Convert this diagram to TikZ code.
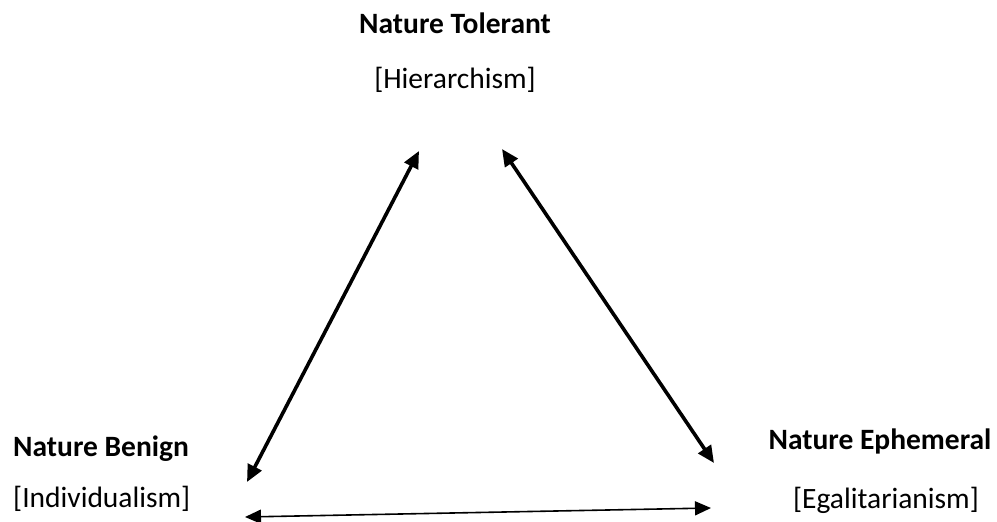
\documentclass[tikz,border=0pt]{standalone}
\usepackage{fontspec}
\setmainfont{Carlito}
\usetikzlibrary{arrows.meta}
\begin{document}
\begin{tikzpicture}[x=1pt,y=-1pt,
  lbl/.style={anchor=base,inner sep=0pt,font=\fontsize{29.5}{34}\selectfont},
  ttl/.style={lbl,font=\fontsize{29.5}{34}\selectfont\bfseries},
  thickarrow/.style={line width=3.6pt,{Triangle[length=17pt,width=15pt]}-{Triangle[length=17pt,width=15pt]}},
  thinarrow/.style={line width=1.6pt,{Triangle[length=16pt,width=14pt]}-{Triangle[length=16pt,width=14pt]}}]
\useasboundingbox (0,0) rectangle (997,522);
\node[ttl] (tolT) at (455,33) {Nature Tolerant};
\node[lbl] (tolS) at (455,88) {[Hierarchism]};
\node[ttl,anchor=base west] (benT) at (13,456) {Nature Benign};
\node[lbl,anchor=base west] (benS) at (13,507) {[Individualism]};
\node[ttl] (ephT) at (880,449) {Nature Ephemeral};
\node[lbl] (ephS) at (886,508) {[Egalitarianism]};
\coordinate (tl) at (419,151);
\coordinate (bl) at (247,482);
\coordinate (tr) at (502,149);
\coordinate (br) at (714,463);
\coordinate (ll) at (245,517);
\coordinate (rr) at (711,508);
\draw[thickarrow] (bl) -- (tl);
\draw[thickarrow] (tr) -- (br);
\draw[thinarrow] (ll) -- (rr);
\end{tikzpicture}
\end{document}
